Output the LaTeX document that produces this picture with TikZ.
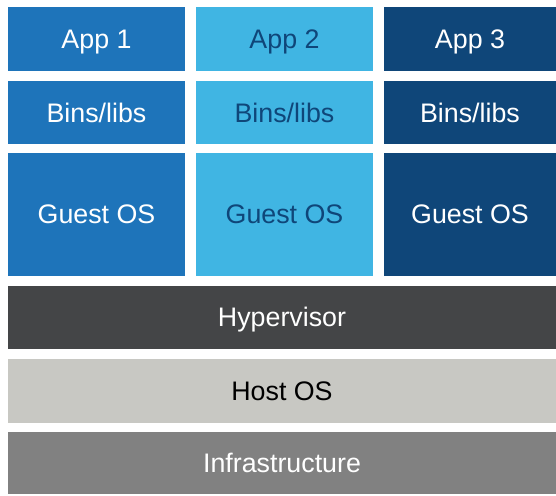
\documentclass[tikz,border=0pt]{standalone}
\usepackage{fontspec}
\setmainfont{Liberation Sans}
\usetikzlibrary{positioning}

\definecolor{bluemid}{HTML}{1E74BA}
\definecolor{bluelight}{HTML}{40B5E3}
\definecolor{bluedark}{HTML}{0F4679}
\definecolor{hypergray}{HTML}{444547}
\definecolor{hostgray}{HTML}{C8C8C3}
\definecolor{infragray}{HTML}{818181}

\begin{document}
\begin{tikzpicture}[x=1pt, y=1pt, node distance=10pt]
        \tikzstyle{layer} = [rectangle, inner sep=0pt, outer sep=0pt, minimum height=63pt, text height=19pt, text depth=0pt, font=\fontsize{26.8}{30}\selectfont];
        \tikzstyle{colbox} = [layer, minimum width=177pt];
        \tikzstyle{widebox} = [layer, minimum width=548pt, minimum height=63.5pt];

        \useasboundingbox (0,0) rectangle (556,-495);

        \node(app1)[colbox, fill=bluemid, text=white, anchor=north west] at (8,-7.5) {App 1};
        \node(bins1)[colbox, fill=bluemid, text=white, below=10.5pt of app1]{Bins/libs};
        \node(guest1)[colbox, fill=bluemid, text=white, minimum height=123pt, below=8.5pt of bins1]{Guest OS};

        \node(app2)[colbox, fill=bluelight, text=bluedark, right=11pt of app1]{App 2};
        \node(bins2)[colbox, fill=bluelight, text=bluedark, right=11pt of bins1]{Bins/libs};
        \node(guest2)[colbox, fill=bluelight, text=bluedark, minimum height=123pt, right=11pt of guest1]{Guest OS};

        \node(app3)[colbox, fill=bluedark, text=white, minimum width=172pt, right=11pt of app2]{App 3};
        \node(bins3)[colbox, fill=bluedark, text=white, minimum width=172pt, right=11pt of bins2]{Bins/libs};
        \node(guest3)[colbox, fill=bluedark, text=white, minimum width=172pt, minimum height=123pt, right=11pt of guest2]{Guest OS};

        \node(hypervisor)[widebox, fill=hypergray, text=white, below=10pt of guest1.south west, anchor=north west]{Hypervisor};
        \node(hostos)[widebox, fill=hostgray, text=black, below=10pt of hypervisor]{Host OS};
        \node(infra)[widebox, fill=infragray, text=white, minimum height=62pt, below=9.5pt of hostos]{Infrastructure};
    \end{tikzpicture}
\end{document}
